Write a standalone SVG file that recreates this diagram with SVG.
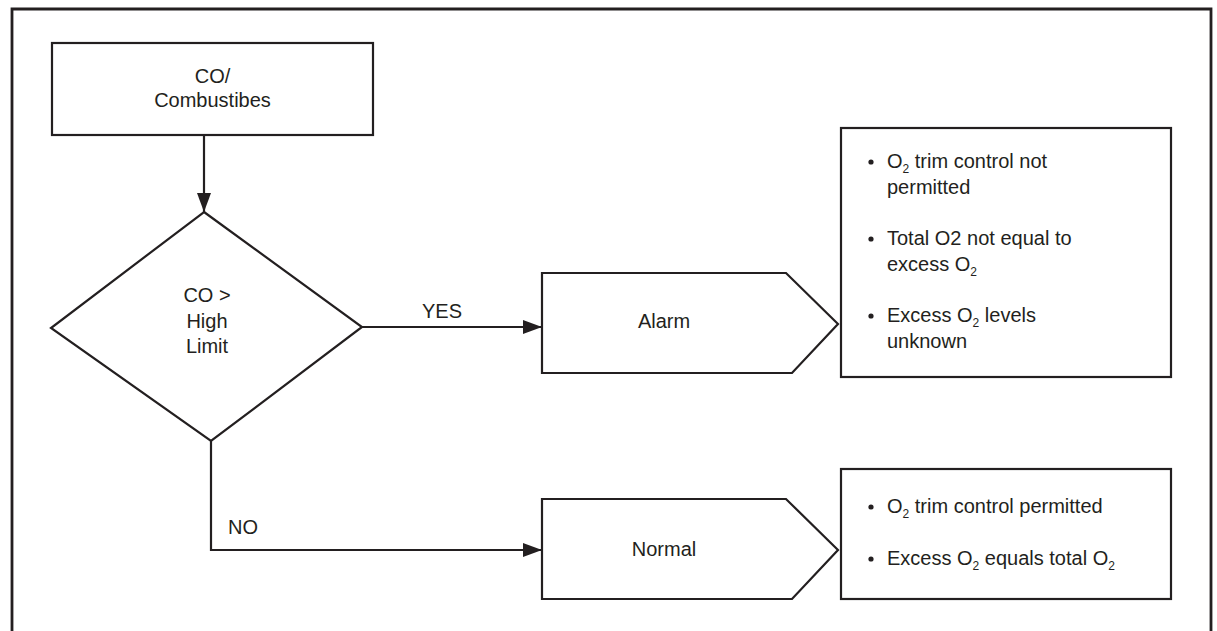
<svg xmlns="http://www.w3.org/2000/svg" width="1217" height="631" viewBox="0 0 1217 631">
  <defs>
    <style>
      .shape { fill: #ffffff; stroke: #231f20; stroke-width: 2.2; }
      .line { fill: none; stroke: #231f20; stroke-width: 2.2; }
      .frame { fill: none; stroke: #231f20; stroke-width: 2.8; }
      text { font-family: "Liberation Sans", Arial, sans-serif; font-size: 20px; fill: #231f20; }
      .c { text-anchor: middle; }
      .sub { font-size: 12px; }
      .bullet { fill: #231f20; }
    </style>
    <marker id="arrow" markerUnits="userSpaceOnUse" markerWidth="20" markerHeight="14" refX="19" refY="7" orient="auto">
      <path d="M0,0 L19,7 L0,14 Z" fill="#231f20"/>
    </marker>
  </defs>
  <rect width="1217" height="631" fill="#ffffff"/>
  <path class="frame" d="M12,640 L12,9 L1211,9 L1211,640"/>

  <g id="connectors">
    <line class="line" x1="204" y1="135" x2="204" y2="212" marker-end="url(#arrow)"/>
    <line class="line" x1="362" y1="327" x2="542" y2="327" marker-end="url(#arrow)"/>
    <polyline class="line" points="211,441 211,550 542,550" marker-end="url(#arrow)"/>
    <text x="442" y="318" class="c">YES</text>
    <text x="228" y="534">NO</text>
  </g>

  <g id="node-co">
    <rect class="shape" x="52" y="43" width="321" height="92"/>
    <text x="212.5" y="83" class="c">CO/</text>
    <text x="212.5" y="107" class="c">Combustibes</text>
  </g>

  <g id="node-decision">
    <polygon class="shape" points="204,212 362,327 211,441 51,328"/>
    <text x="207" y="302" class="c">CO &gt;</text>
    <text x="207" y="328" class="c">High</text>
    <text x="207" y="353" class="c">Limit</text>
  </g>

  <g id="node-alarm">
    <polygon class="shape" points="542,273 786,273 838,324 792,373 542,373"/>
    <text x="664" y="328" class="c">Alarm</text>
  </g>

  <g id="node-normal">
    <polygon class="shape" points="542,499 786,499 838,550 792,599 542,599"/>
    <text x="664" y="556" class="c">Normal</text>
  </g>

  <g id="node-alarm-notes">
    <rect class="shape" x="841" y="128" width="330" height="249"/>
    <circle class="bullet" cx="871" cy="162" r="2.6"/>
    <text x="887" y="168">O<tspan class="sub" dy="5">2</tspan><tspan dy="-5"> trim control not</tspan></text>
    <text x="887" y="194">permitted</text>
    <circle class="bullet" cx="871" cy="239" r="2.6"/>
    <text x="887" y="245">Total O2 not equal to</text>
    <text x="887" y="271">excess O<tspan class="sub" dy="5">2</tspan></text>
    <circle class="bullet" cx="871" cy="316" r="2.6"/>
    <text x="887" y="322">Excess O<tspan class="sub" dy="5">2</tspan><tspan dy="-5"> levels</tspan></text>
    <text x="887" y="348">unknown</text>
  </g>

  <g id="node-normal-notes">
    <rect class="shape" x="841" y="469" width="330" height="130"/>
    <circle class="bullet" cx="871" cy="507" r="2.6"/>
    <text x="887" y="513">O<tspan class="sub" dy="5">2</tspan><tspan dy="-5"> trim control permitted</tspan></text>
    <circle class="bullet" cx="871" cy="559" r="2.6"/>
    <text x="887" y="565">Excess O<tspan class="sub" dy="5">2</tspan><tspan dy="-5"> equals total O</tspan><tspan class="sub" dy="5">2</tspan></text>
  </g>
</svg>
